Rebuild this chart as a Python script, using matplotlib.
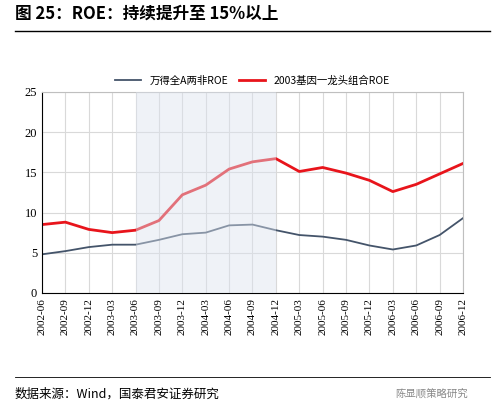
import matplotlib
matplotlib.use("Agg")
import matplotlib.pyplot as plt
import numpy as np

plt.rcParams["font.family"] = ["Noto Sans CJK SC", "DejaVu Sans"]

dates = ["2002-06", "2002-09", "2002-12", "2003-03", "2003-06", "2003-09", "2003-12",
         "2004-03", "2004-06", "2004-09", "2004-12", "2005-03", "2005-06", "2005-09",
         "2005-12", "2006-03", "2006-06", "2006-09", "2006-12"]
roe_all = [4.8, 5.2, 5.7, 6.0, 6.0, 6.6, 7.3, 7.5, 8.4, 8.5, 7.8, 7.2, 7.0, 6.6,
           5.9, 5.4, 5.9, 7.2, 9.3]
roe_lead = [8.5, 8.8, 7.9, 7.5, 7.8, 9.0, 12.2, 13.4, 15.4, 16.3, 16.7, 15.1, 15.6,
            14.9, 14.0, 12.6, 13.5, 14.8, 16.1]
shade = ("2003-06", "2004-12")

fig = plt.figure(figsize=(5, 4.12), dpi=100)
ax = fig.add_axes([0.084, 0.289, 0.842, 0.488])
x = np.arange(len(dates))
ax.plot(x, roe_all, color="#44546A", lw=1.3, label="万得全A两非ROE")
ax.plot(x, roe_lead, color="#E8141B", lw=2.0, label="2003基因一龙头组合ROE")
ax.axvspan(dates.index(shade[0]), dates.index(shade[1]), color="#DCE3EF", alpha=0.45, zorder=3, lw=0)

ax.set_xlim(0, len(dates) - 1)
ax.set_ylim(0, 25)
ax.set_yticks(range(0, 26, 5))
ax.set_xticks(x)
ax.set_xticklabels(dates, rotation=90, family="Liberation Serif", fontsize=8)
for t in ax.get_yticklabels():
    t.set_family("Liberation Serif")
ax.tick_params(axis="y", labelsize=9, length=0)
ax.tick_params(axis="x", length=0)
ax.grid(color="#D9D9D9", lw=0.8)
for s in ["top", "right"]:
    ax.spines[s].set_color("#BFBFBF")
for s in ["left", "bottom"]:
    ax.spines[s].set_color("black")
ax.legend(loc="lower center", bbox_to_anchor=(0.5, 1.0), ncol=2, frameon=False,
          fontsize=7.5, handlelength=2.5, columnspacing=1.0, borderaxespad=0.2)

fig.text(0.03, 0.955, "图 25：ROE：持续提升至 15%以上", fontsize=12, weight="bold")
fig.add_artist(plt.Line2D([0.03, 0.98], [0.925, 0.925], color="black", lw=1.0))
fig.add_artist(plt.Line2D([0.03, 0.98], [0.085, 0.085], color="black", lw=0.6))
fig.text(0.03, 0.035, "数据来源：Wind，国泰君安证券研究", fontsize=9)
fig.text(0.79, 0.035, "陈显顺策略研究", fontsize=7.5, color="#888888")

fig.savefig("out.png", dpi=100)
